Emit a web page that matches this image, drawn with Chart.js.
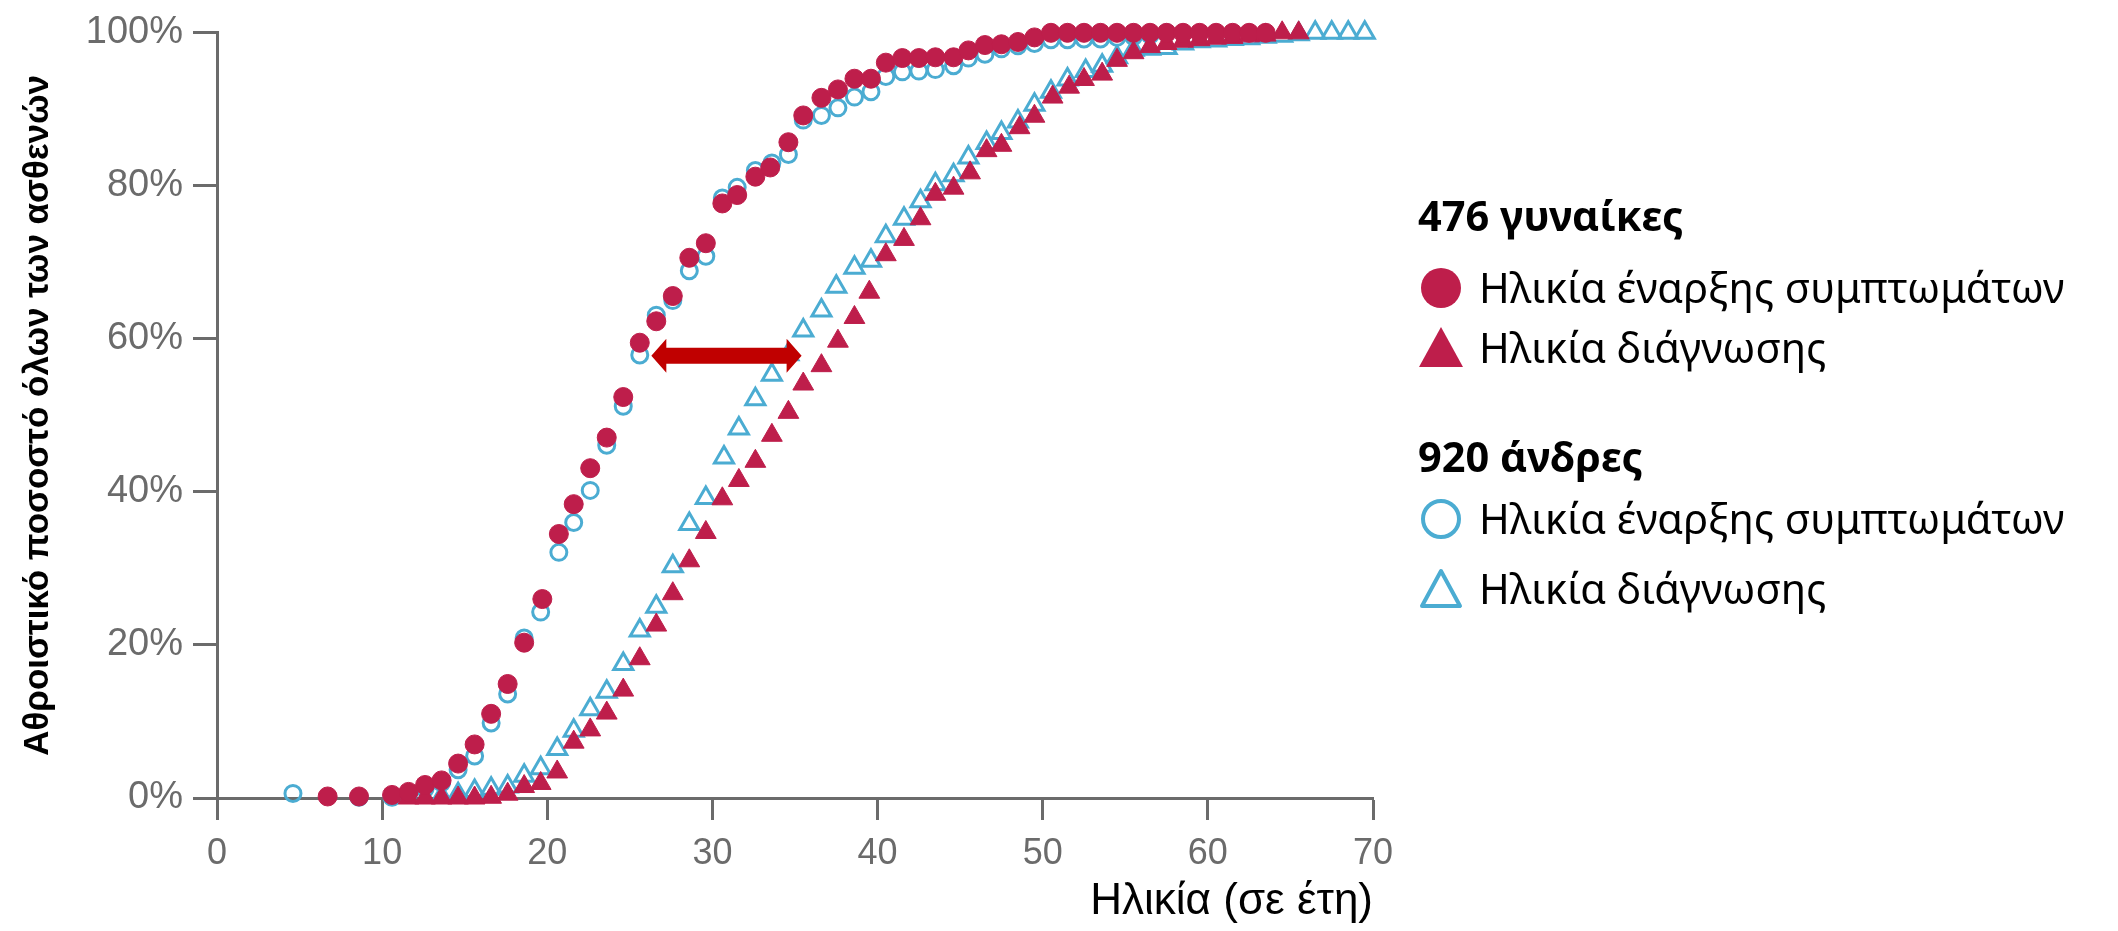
<!DOCTYPE html>
<html lang="el">
<head>
<meta charset="utf-8">
<title>Αθροιστικό ποσοστό ασθενών ανά ηλικία</title>
<script src="https://cdn.jsdelivr.net/npm/chart.js@4.4.1/dist/chart.umd.min.js"></script>
<style>
    html, body { margin: 0; padding: 0; background: #fff; }
    #wrap { position: relative; width: 2118px; height: 931px; overflow: hidden; }
    #chart { position: absolute; left: 0; top: 0; }
    .legend { position: absolute; left: 1418px; top: 0; font-family: 'Noto Sans', sans-serif; color: #000; }
    .legend .row { position: absolute; left: 0; display: flex; align-items: center; white-space: nowrap; font-size: 41.5px; line-height: 1; transform: translateY(-50%); }
    .legend .head { font-weight: 700; }
    .legend svg { width: 46px; height: 46px; margin-right: 15px; flex: none; }
</style>
</head>
<body>
<div id="wrap">
    <canvas id="chart" width="2118" height="931"></canvas>
    <div class="legend" id="legend"></div>
</div>
<script>
// --- data ---
const womenOnsetAge = [6.7, 8.6, 10.6, 11.6, 12.6, 13.6, 14.6, 15.6, 16.6, 17.6, 18.6, 19.7, 20.7, 21.6, 22.6, 23.6,
    24.6, 25.6, 26.6, 27.6, 28.6, 29.6, 30.6, 31.5, 32.6, 33.5, 34.6, 35.5, 36.6, 37.6, 38.6, 39.6,
    40.5, 41.5, 42.5, 43.5, 44.6, 45.5, 46.5, 47.5, 48.5, 49.5, 50.5, 51.5, 52.5, 53.5, 54.5, 55.5,
    56.5, 57.5, 58.5, 59.5, 60.5, 61.5, 62.5, 63.5];
const womenOnsetPct = [0.2, 0.2, 0.4, 0.8, 1.7, 2.3, 4.5, 7.0, 11.0, 14.9, 20.3, 26.0, 34.5, 38.4, 43.1, 47.1,
    52.4, 59.5, 62.3, 65.6, 70.6, 72.5, 77.7, 78.8, 81.2, 82.4, 85.7, 89.2, 91.5, 92.6, 94.0, 94.0,
    96.1, 96.7, 96.7, 96.8, 96.8, 97.7, 98.4, 98.5, 98.8, 99.4, 100, 100, 100, 100, 100, 100,
    100, 100, 100, 100, 100, 100, 100, 100];

const womenDiagAge = [11.6, 12.6, 13.6, 14.6, 15.6, 16.6, 17.6, 18.6, 19.6, 20.6, 21.6, 22.6, 23.6, 24.6, 25.6, 26.6,
    27.6, 28.6, 29.6, 30.6, 31.6, 32.6, 33.6, 34.6, 35.5, 36.6, 37.6, 38.6, 39.5, 40.5, 41.6, 42.6,
    43.5, 44.6, 45.6, 46.6, 47.5, 48.6, 49.5, 50.6, 51.6, 52.5, 53.6, 54.5, 55.5, 56.5, 57.5, 58.5,
    59.5, 60.5, 61.5, 62.5, 63.5, 64.5, 65.5];
const womenDiagPct = [0, 0, 0, 0, 0, 0.1, 0.5, 1.5, 1.9, 3.4, 7.3, 8.9, 11.1, 14.1, 18.2, 22.6,
    26.7, 31.0, 34.7, 39.1, 41.5, 44.0, 47.4, 50.4, 54.1, 56.5, 59.7, 62.8, 66.1, 71.0, 73.0, 75.7,
    78.9, 79.7, 81.7, 84.6, 85.3, 87.6, 89.1, 91.6, 92.9, 93.9, 94.6, 96.4, 97.4, 98.2, 98.6, 98.9,
    99.1, 99.3, 99.4, 99.6, 99.7, 100, 100];

const menOnsetAge = [4.6, 8.6, 10.6, 11.6, 12.6, 13.6, 14.6, 15.6, 16.6, 17.6, 18.6, 19.6, 20.7, 21.6, 22.6, 23.6,
    24.6, 25.6, 26.6, 27.6, 28.6, 29.6, 30.6, 31.5, 32.6, 33.6, 34.6, 35.5, 36.6, 37.6, 38.6, 39.6,
    40.5, 41.5, 42.5, 43.5, 44.6, 45.5, 46.5, 47.5, 48.5, 49.5, 50.5, 51.5, 52.5, 53.5, 54.5, 55.5,
    56.5, 57.5];
const menOnsetPct = [0.6, 0.1, 0.1, 0.6, 1.2, 2.0, 3.7, 5.5, 9.8, 13.6, 20.9, 24.3, 32.1, 36.0, 40.2, 46.1,
    51.2, 57.9, 63.1, 65.0, 68.9, 70.8, 78.4, 79.8, 82.0, 83.0, 84.1, 88.6, 89.2, 90.2, 91.6, 92.3,
    94.3, 94.9, 95.0, 95.2, 95.7, 96.7, 97.2, 97.9, 98.3, 98.6, 99.1, 99.1, 99.2, 99.2, 99.4, 99.5,
    99.7, 100];

const menDiagAge = [13.6, 14.6, 15.6, 16.6, 17.6, 18.6, 19.6, 20.6, 21.6, 22.6, 23.6, 24.6, 25.6, 26.6, 27.6, 28.6,
    29.6, 30.7, 31.6, 32.6, 33.6, 34.6, 35.5, 36.6, 37.5, 38.6, 39.6, 40.5, 41.6, 42.6, 43.5, 44.6,
    45.5, 46.6, 47.5, 48.5, 49.5, 50.5, 51.5, 52.6, 53.6, 54.5, 55.5, 56.5, 57.5, 58.5, 59.5, 60.5,
    61.5, 62.5, 63.5, 64.5, 65.5, 66.5, 67.5, 68.5, 69.5];
const menDiagPct = [0.2, 0.5, 0.9, 1.2, 1.5, 2.9, 3.9, 6.4, 8.8, 11.6, 13.9, 17.5, 21.9, 25.0, 30.3, 35.8,
    39.2, 44.5, 48.3, 52.1, 55.3, 58.0, 61.1, 63.7, 66.8, 69.3, 70.2, 73.4, 75.7, 78.0, 80.2, 81.4,
    83.7, 85.6, 86.9, 88.4, 90.6, 92.3, 93.9, 95.0, 95.7, 96.8, 97.8, 97.9, 98.0, 98.6, 98.9, 99.0,
    99.2, 99.3, 99.5, 99.6, 99.8, 100, 100, 100, 100];

const xTicks = [0, 10, 20, 30, 40, 50, 60, 70];
const yTicks = [0, 20, 40, 60, 80, 100];
const groupLabels = ['476 γυναίκες', '920 άνδρες'];
const seriesLabels = ['Ηλικία έναρξης συμπτωμάτων', 'Ηλικία διάγνωσης'];
const xTitle = 'Ηλικία (σε έτη)';
const yTitle = 'Αθροιστικό ποσοστό όλων των ασθενών';

// the red double arrow between the two women curves
const arrowAges = [26.3, 35.4];
const arrowPct = 57.8;

// --- styling ---
const crimson = '#BE1E4B';
const blue = '#4BACD2';
const arrowRed = '#C00000';
const axisGrey = '#6b6b6b';
const sansFamily = "'Liberation Sans', Arial, sans-serif";

function toPoints(ages, pcts) {
    return ages.map((age, i) => ({ x: age, y: pcts[i] }));
}

const arrowPlugin = {
    id: 'gapArrow',
    afterDatasetsDraw(chart) {
        const { ctx, scales: { x, y } } = chart;
        const x0 = x.getPixelForValue(arrowAges[0]);
        const x1 = x.getPixelForValue(arrowAges[1]);
        const yy = y.getPixelForValue(arrowPct);
        const head = 15, half = 17, shaft = 8;
        ctx.save();
        ctx.fillStyle = arrowRed;
        ctx.beginPath();
        ctx.moveTo(x0, yy);
        ctx.lineTo(x0 + head, yy - half);
        ctx.lineTo(x0 + head, yy - shaft);
        ctx.lineTo(x1 - head, yy - shaft);
        ctx.lineTo(x1 - head, yy - half);
        ctx.lineTo(x1, yy);
        ctx.lineTo(x1 - head, yy + half);
        ctx.lineTo(x1 - head, yy + shaft);
        ctx.lineTo(x0 + head, yy + shaft);
        ctx.lineTo(x0 + head, yy + half);
        ctx.closePath();
        ctx.fill();
        ctx.restore();
    }
};

const datasets = [
    {
        label: groupLabels[0] + ' - ' + seriesLabels[0],
        data: toPoints(womenOnsetAge, womenOnsetPct),
        pointStyle: 'circle',
        pointRadius: 9.5,
        backgroundColor: crimson,
        borderColor: crimson,
        borderWidth: 1
    },
    {
        label: groupLabels[0] + ' - ' + seriesLabels[1],
        data: toPoints(womenDiagAge, womenDiagPct),
        pointStyle: 'triangle',
        pointRadius: 12,
        backgroundColor: crimson,
        borderColor: crimson,
        borderWidth: 1
    },
    {
        label: groupLabels[1] + ' - ' + seriesLabels[0],
        data: toPoints(menOnsetAge, menOnsetPct),
        pointStyle: 'circle',
        pointRadius: 8,
        backgroundColor: 'rgba(255,255,255,0)',
        borderColor: blue,
        borderWidth: 3
    },
    {
        label: groupLabels[1] + ' - ' + seriesLabels[1],
        data: toPoints(menDiagAge, menDiagPct),
        pointStyle: 'triangle',
        pointRadius: 11,
        backgroundColor: 'rgba(255,255,255,0)',
        borderColor: blue,
        borderWidth: 3
    }
];
datasets.forEach(ds => { ds.clip = false; ds.pointHoverRadius = ds.pointRadius; });

new Chart(document.getElementById('chart'), {
    type: 'scatter',
    data: { datasets: datasets },
    options: {
        responsive: false,
        animation: false,
        devicePixelRatio: 1,
        layout: { padding: { left: 0, right: 745, top: 27, bottom: 0 } },
        plugins: {
            legend: { display: false },
            tooltip: { enabled: false }
        },
        scales: {
            x: {
                type: 'linear',
                min: 0,
                max: 70,
                afterBuildTicks: scale => { scale.ticks = xTicks.map(v => ({ value: v })); },
                afterFit: scale => { scale.height = 133; },
                grid: { drawOnChartArea: false, drawTicks: true, tickLength: 22, tickWidth: 3, tickColor: axisGrey },
                border: { display: true, color: axisGrey, width: 3 },
                ticks: {
                    color: axisGrey,
                    padding: 12,
                    maxRotation: 0,
                    font: { family: sansFamily, size: 36 }
                },
                title: {
                    display: true,
                    text: xTitle,
                    align: 'end',
                    color: '#000',
                    font: { family: sansFamily, size: 44 },
                    padding: { top: 0, bottom: 3 }
                }
            },
            y: {
                type: 'linear',
                min: 0,
                max: 100,
                afterBuildTicks: scale => { scale.ticks = yTicks.map(v => ({ value: v })); },
                afterFit: scale => { scale.width = 217; },
                grid: { drawOnChartArea: false, drawTicks: true, tickLength: 24, tickWidth: 3, tickColor: axisGrey },
                border: { display: true, color: axisGrey, width: 3 },
                ticks: {
                    color: axisGrey,
                    padding: 10,
                    font: { family: sansFamily, size: 38 },
                    callback: value => value + '%'
                },
                title: {
                    display: true,
                    text: yTitle,
                    color: '#000',
                    font: { family: sansFamily, size: 35, weight: 'bold' },
                    padding: { top: 17, bottom: 0 }
                }
            }
        }
    },
    plugins: [arrowPlugin]
});

// --- legend (two groups, each with onset + diagnosis) ---
function markerSvg(shape, filled) {
    const colour = filled ? crimson : blue;
    const paint = filled ? `fill="${colour}"` : `fill="none" stroke="${colour}" stroke-width="4" stroke-linejoin="round"`;
    if (shape === 'circle') {
        return `<svg viewBox="0 0 46 46"><circle cx="23" cy="23" r="${filled ? 20 : 18}" ${paint}/></svg>`;
    }
    return filled
        ? `<svg viewBox="0 0 46 46"><polygon points="23,2 45,42 1,42" ${paint}/></svg>`
        : `<svg viewBox="0 0 46 46"><polygon points="23,5 42,40 4,40" ${paint}/></svg>`;
}

const legendRows = [
    { cls: 'head', text: groupLabels[0], top: 216 },
    { shape: 'circle', filled: true, text: seriesLabels[0], top: 288 },
    { shape: 'triangle', filled: true, text: seriesLabels[1], top: 348 },
    { cls: 'head', text: groupLabels[1], top: 457 },
    { shape: 'circle', filled: false, text: seriesLabels[0], top: 519 },
    { shape: 'triangle', filled: false, text: seriesLabels[1], top: 589 }
];
const legendEl = document.getElementById('legend');
legendRows.forEach(row => {
    const div = document.createElement('div');
    div.className = 'row' + (row.cls ? ' ' + row.cls : '');
    div.style.top = row.top + 'px';
    div.innerHTML = (row.shape ? markerSvg(row.shape, row.filled) : '') + '<span>' + row.text + '</span>';
    legendEl.appendChild(div);
});
</script>
</body>
</html>
